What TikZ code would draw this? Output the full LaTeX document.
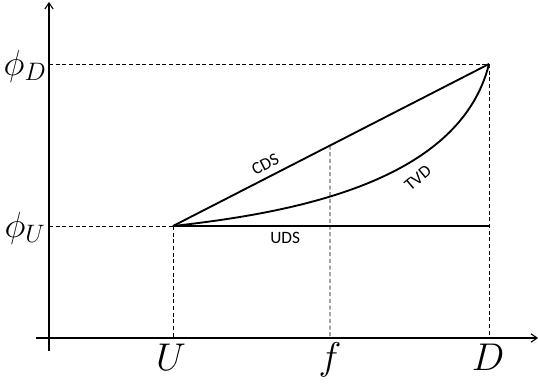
\RequirePackage{fix-cm}
\documentclass[tikz,border=0pt]{standalone}
\usepackage{fontspec}
\newfontfamily\lblfont{Carlito}
\usepackage{tikz}
\usetikzlibrary{arrows.meta,calc}
\tikzset{
  axis/.style   ={draw, line width=0.8pt, -{Straight Barb[length=1.6mm, width=2.2mm]}},
  guide/.style  ={draw, line width=0.6pt, dash pattern=on 3pt off 2pt},
  scheme/.style ={draw, line width=1.4pt},
  ticklbl/.style={inner sep=0pt, font=\fontsize{29}{32}\selectfont},
  philbl/.style ={inner sep=0pt, font=\fontsize{27}{30}\selectfont},
  lbl/.style    ={inner sep=1pt, font=\lblfont\fontsize{13}{15}\selectfont},
}

\begin{document}
\begin{tikzpicture}[x=0.75pt, y=-0.75pt]
  \useasboundingbox (0,0) rectangle (538,383);

  % axes
  \coordinate (xs) at (36,338);  \coordinate (xe) at (538,338);
  \coordinate (ys) at (49,351);  \coordinate (ye) at (49,2);
  \draw[axis] (xs) -- (xe);
  \draw[axis] (ys) -- (ye);

  % key points
  \coordinate (Upt) at (173,226);
  \coordinate (Dpt) at (489,64);
  \coordinate (fpt) at ($(Upt)!0.4968!(Dpt)$);
  \coordinate (phiU) at (49,226);   \coordinate (phiD) at (49,64);
  \coordinate (Ubase) at (173,338); \coordinate (fbase) at (330,338);
  \coordinate (Dbase) at (489,338); \coordinate (Dlow) at (489,226);

  % guides
  \draw[guide] (phiD) -- (Dpt);
  \draw[guide] (phiU) -- (Upt);
  \draw[guide] (Upt) -- (Ubase);
  \draw[guide] (fpt) -- (fbase);
  \draw[guide] (Dpt) -- (Dbase);

  % schemes
  \draw[scheme] (Upt) -- node[lbl, pos=0.31, above=3.5pt, sloped] {CDS} (Dpt);
  \draw[scheme] (Upt) -- node[lbl, pos=0.355, below=3pt] {UDS} (Dlow);
  \draw[scheme] (Upt) .. controls (300,212) and (460,180) .. (Dpt);
  \node[lbl, rotate=40] (tvd) at (418,178) {TVD};

  % axis labels
  \node[philbl] (lphiD) at (25,66) {$\phi_D$};
  \node[philbl] (lphiU) at (25,228) {$\phi_U$};
  \node[ticklbl] (lU) at (171,357) {$U$};
  \node[ticklbl] (lf) at (330,360) {$f$};
  \node[ticklbl] (lD) at (488,357) {$D$};
\end{tikzpicture}
\end{document}
